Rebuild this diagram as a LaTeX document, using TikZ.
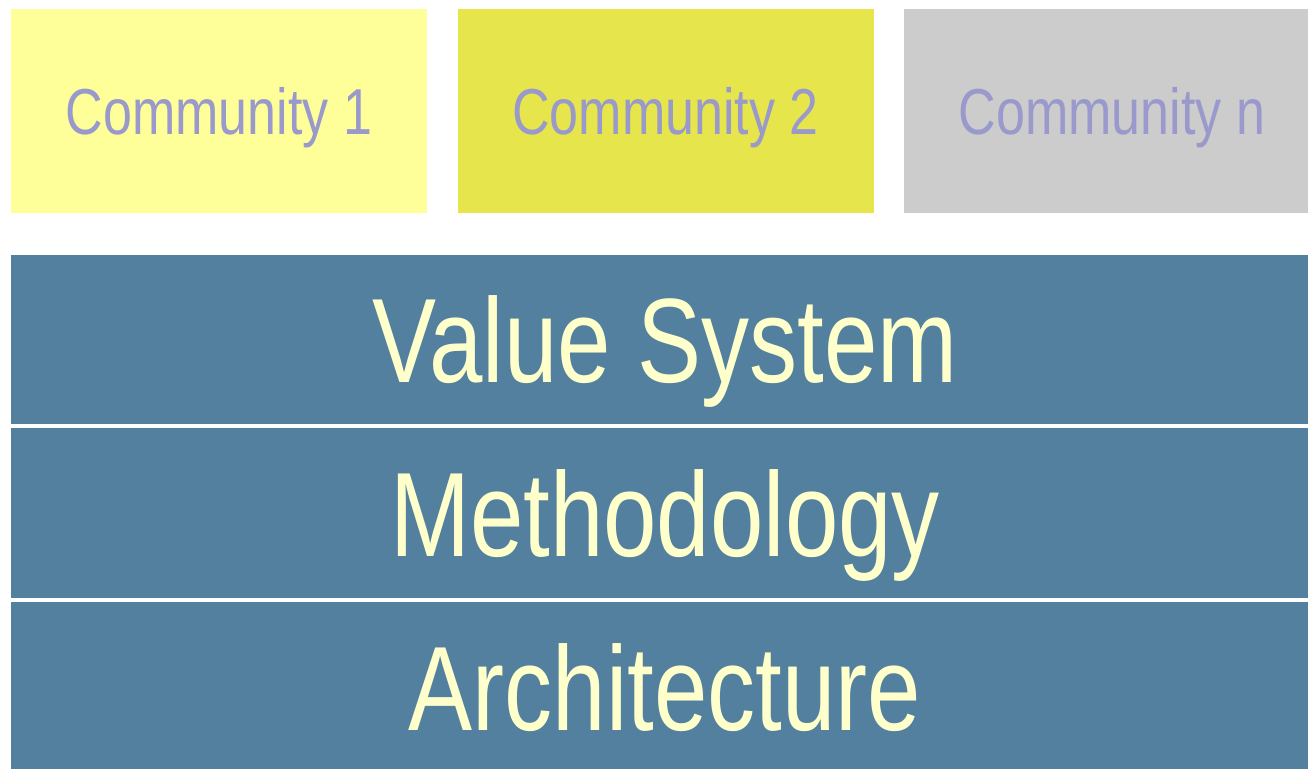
\documentclass[tikz,border=0pt]{standalone}
\usepackage{fontspec}
\setmainfont[FakeStretch=0.8]{Liberation Sans}
\definecolor{comone}{HTML}{FFFF99}
\definecolor{comtwo}{HTML}{E6E64C}
\definecolor{comn}{HTML}{CCCCCC}
\definecolor{comtext}{HTML}{9999CC}
\definecolor{layer}{HTML}{52809E}
\definecolor{layertext}{HTML}{FFFFCC}
\tikzset{every picture/.style={line width=0.55pt}}
\tikzset{
  combox/.style={inner sep=0pt, minimum width=416pt, minimum height=204pt,
    text=comtext, font=\fontsize{65}{78}\selectfont, text height=46.5pt, text depth=0pt},
  layerbox/.style={fill=layer, inner sep=0pt, minimum width=1308pt, minimum height=170pt,
    text=layertext, font=\fontsize{120}{144}\selectfont, text height=86pt, text depth=0pt}
}
\begin{document}
\begin{tikzpicture}[x=1pt,y=1pt,yscale=-1,xscale=1]
  \useasboundingbox (0,0) rectangle (1308,768);
  \clip (0,0) rectangle (1308,768);
  % communities
  \node [combox, fill=comone] (com1) at (219,111) {Community 1};
  \node [combox, fill=comtwo] (com2) at (665.5,111) {Community 2};
  \node [combox, fill=comn] (comn) at (1112,111) {Community n};
  % layers
  \node [layerbox, minimum height=169pt] (valsys) at (665,339.5) {Value System};
  \node [layerbox] (method) at (665,513) {Methodology};
  \node [layerbox] (arch) at (665,687) {Architecture};
\end{tikzpicture}
\end{document}
